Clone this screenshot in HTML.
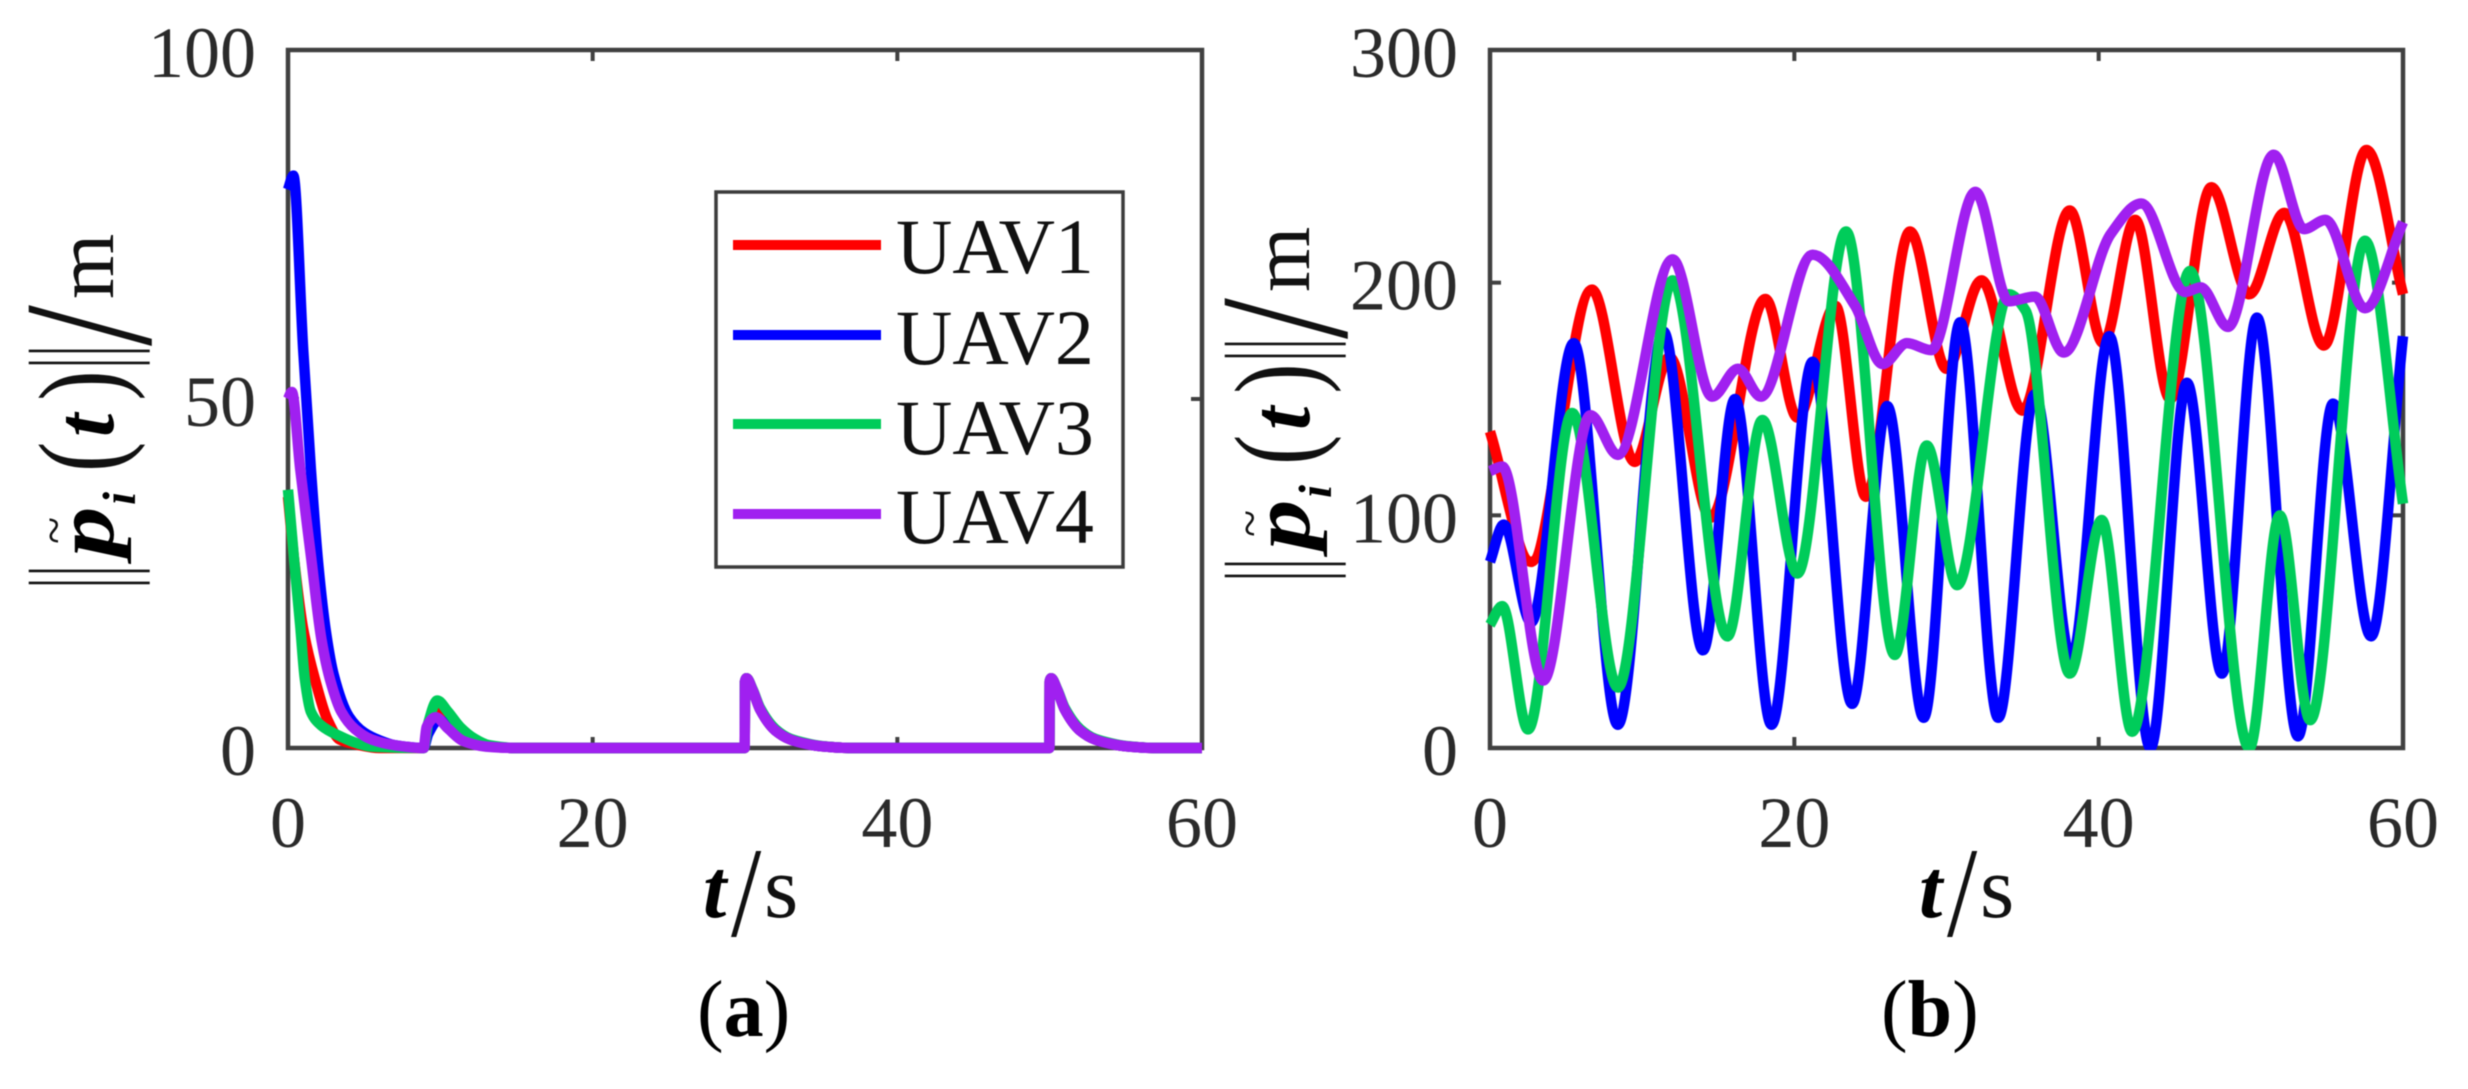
<!DOCTYPE html>
<html lang="en">
<head>
<meta charset="utf-8">
<title>UAV position error norms</title>
<style>
html,body{margin:0;padding:0;background:#fff;}
svg{display:block;filter:blur(0.5px);}
text{font-family:"Liberation Serif","DejaVu Serif",serif;}
.tick{font-size:72px;fill:#2a2a2a;}
.leg{font-size:78px;fill:#111;}
.ttl{font-size:84px;fill:#111;}
.bi{font-weight:bold;font-style:italic;fill:#000;}
</style>
</head>
<body>
<svg id="fig" xmlns="http://www.w3.org/2000/svg" width="2468" height="1089" viewBox="0 0 2468 1089">
  <rect x="0" y="0" width="2468" height="1089" fill="#fff"/>
  <defs><clipPath id="clipB"><rect x="1470" y="40" width="945" height="710"/></clipPath></defs>

  <g id="panelA"></g>
  <g id="panelB"></g>

  <g>
    <rect x="716" y="192" width="407" height="375" fill="#fff" stroke="#3c3c3c" stroke-width="3.5"/>
    <line x1="733" x2="881" y1="245" y2="245" stroke="#ff0000" stroke-width="10"/>
    <line x1="733" x2="881" y1="335" y2="335" stroke="#0000ff" stroke-width="10"/>
    <line x1="733" x2="881" y1="424" y2="424" stroke="#00cc5a" stroke-width="10"/>
    <line x1="733" x2="881" y1="514" y2="514" stroke="#a020f0" stroke-width="10"/>
    <text class="leg" x="896" y="273">UAV1</text>
    <text class="leg" x="896" y="364">UAV2</text>
    <text class="leg" x="896" y="454">UAV3</text>
    <text class="leg" x="896" y="543">UAV4</text>
  </g>

  <g transform="translate(113,587) rotate(-90)" id="ylabA"></g>
  <g transform="translate(1309,580) rotate(-90)" id="ylabB"></g>

  <g>
    <text class="ttl bi" x="703" y="917">t</text>
    <text class="ttl" transform="translate(731,936) scale(0.85,1)" style="font-size:128px">/</text>
    <text class="ttl" x="764" y="917" style="font-size:88px">s</text>
  </g>
  <g transform="translate(1216,0)">
    <text class="ttl bi" x="703" y="917">t</text>
    <text class="ttl" transform="translate(731,936) scale(0.85,1)" style="font-size:128px">/</text>
    <text class="ttl" x="764" y="917" style="font-size:88px">s</text>
  </g>

  <text x="697" y="1036" style="font-size:80px" fill="#000">(<tspan font-weight="bold">a</tspan>)</text>
  <text x="1881" y="1036" style="font-size:80px" fill="#000">(<tspan font-weight="bold">b</tspan>)</text>
</svg>

<script>
// ---------- tick labels ----------
var xTicks = [0, 20, 40, 60];
var yTicksA = [0, 50, 100];
var yTicksB = [0, 100, 200, 300];

// ---------- panel (a): settled error norms ----------
var tA1 = [0,0.4,1,1.8,2.6,3.4,4.5,6,8.9,9.2,9.9,10.8,11.8,13,15,29.98,30,30.1,30.5,31,32,33,34,35,37,49.98,50,50.1,50.5,51,52,53,54,55,57,60];
var vA1 = [36,27,17,9.6,4,1.2,0.5,0,0,2.5,5.2,3,1.2,0.3,0,0,9.5,10,8.3,5.5,2.5,1.2,0.6,0.25,0,0,9.5,10,8.3,5.5,2.5,1.2,0.6,0.25,0,0];
var tA2 = [0,0.35,1,1.5,2,2.5,3,4,5,6,7,8.9,9.2,9.9,10.8,11.8,13,15,29.98,30,30.1,30.5,31,32,33,34,35,37,49.98,50,50.1,50.5,51,52,53,54,55,57,60];
var vA2 = [80,82,57,40,26,16.5,10.5,4.5,2.2,1.1,0.4,0,2,4,2.6,1,0.3,0,0,9.5,10,8.3,5.5,2.5,1.2,0.6,0.25,0,0,9.5,10,8.3,5.5,2.5,1.2,0.6,0.25,0,0];
var tA3 = [0,0.4,0.8,1.1,1.5,2.2,3.4,4.5,5.5,8.9,9.2,9.8,10.5,11.3,12.2,13.2,15,29.98,30,30.1,30.5,31,32,33,34,35,37,49.98,50,50.1,50.5,51,52,53,54,55,57,60];
var vA3 = [37,27,17.6,10,5.2,3.2,1.7,0.7,0.2,0,3.5,6.8,5.2,3,1.4,0.4,0,0,9.5,10,8.4,5.7,2.7,1.3,0.7,0.3,0,0,9.5,10,8.4,5.7,2.7,1.3,0.7,0.3,0,0];
var tA4 = [0,0.25,0.8,1.5,2.2,2.8,3.5,4.4,5.5,7,8.9,9.1,9.7,10.5,11.5,13,15,29.98,30,30.1,30.5,31,32,33,34,35,37,49.98,50,50.1,50.5,51,52,53,54,55,57,60];
var vA4 = [50,51,40,27.6,15.5,9.5,5.2,2.7,1.2,0.4,0,3,4.4,2.8,1,0.2,0,0,9.5,10,8.3,5.5,2.5,1.2,0.6,0.25,0,0,9.5,10,8.3,5.5,2.5,1.2,0.6,0.25,0,0];

// ---------- panel (b): oscillating error norms ----------
var tB1 = [0,2.7,6.7,9.5,11.8,14.5,18.1,20.2,22.7,24.7,27.6,30,32.3,35,38.1,40.3,42.4,44.7,47.4,49.9,52.2,54.8,57.6,60];
var vB1 = [136,80,197,123,168,99,193,142,190,108,222,163,201,145,231,174,227,150,241,195,230,173,257,195];
var tB2 = [0,0.9,2.7,5.5,8.4,11.4,14,16.1,18.5,21.2,23.8,26.1,28.5,30.9,33.4,35.8,38.2,40.7,43.4,45.8,48.1,50.4,53.1,55.4,57.9,60];
var vB2 = [80,96,54,174,10,179,42,150,10,166,19,147,13,183,13,152,38,177,0,157,32,185,5,148,48,177];
var tB3 = [0,0.8,2.5,5.4,8.4,12,15.6,17.9,20.2,23.4,26.6,28.7,30.7,34.1,35.2,38.1,40.2,42.2,46,49.9,51.9,53.9,57.5,60];
var vB3 = [53,61,8,144,26,201,48,141,75,222,40,130,70,195,188,32,98,7,205,0,100,12,218,105];
var tB4 = [0,0.8,3.5,6.6,8.4,12,14.6,16.3,17.8,21.2,24,25.8,27.4,29,31.9,34.1,35.8,37.7,40.8,42.8,45.7,46.7,48.5,51.5,53.5,54.9,57.5,60];
var vB4 = [119,121,29,143,126,210,151,163,151,212,190,165,174,171,239,192,194,170,221,234,196,198,181,255,223,227,189,226];

// ---------- axis functions ----------
var SVGNS = 'http://www.w3.org/2000/svg';
var LEFT_A = 288, RIGHT_A = 1202, LEFT_B = 1490, RIGHT_B = 2403, TOP = 50, BOTTOM = 748;
function xA(t){ return LEFT_A + t * (RIGHT_A - LEFT_A) / 60; }
function yA(v){ return BOTTOM - v * (BOTTOM - TOP) / 100; }
function xB(t){ return LEFT_B + t * (RIGHT_B - LEFT_B) / 60; }
function yB(v){ return BOTTOM - v * (BOTTOM - TOP) / 300; }

// Monotone (Fritsch-Carlson style) cubic through the read values
function curve(ts, vs, fx, fy){
  var n = ts.length, m = [], d = [], i;
  for (i = 0; i < n - 1; i++) d[i] = (vs[i+1] - vs[i]) / (ts[i+1] - ts[i]);
  m[0] = d[0]; m[n-1] = d[n-2];
  for (i = 1; i < n - 1; i++) {
    if (d[i-1] * d[i] <= 0) { m[i] = 0; }
    else {
      var h0 = ts[i] - ts[i-1], h1 = ts[i+1] - ts[i];
      m[i] = (h0 + h1) * 3 / ((2*h1 + h0) / d[i-1] + (h1 + 2*h0) / d[i]);
    }
  }
  var p = 'M' + fx(ts[0]).toFixed(2) + ' ' + fy(vs[0]).toFixed(2);
  for (i = 0; i < n - 1; i++) {
    var h = ts[i+1] - ts[i];
    var t1 = ts[i] + h/3, v1 = vs[i] + m[i]*h/3;
    var t2 = ts[i+1] - h/3, v2 = vs[i+1] - m[i+1]*h/3;
    p += 'C' + fx(t1).toFixed(2) + ' ' + fy(v1).toFixed(2) + ' ' + fx(t2).toFixed(2) + ' ' + fy(v2).toFixed(2) + ' ' + fx(ts[i+1]).toFixed(2) + ' ' + fy(vs[i+1]).toFixed(2);
  }
  return p;
}

function drawAxes(g, fx, fy, yTicks, left, right, suffix, lblX){
  var box = document.createElementNS(SVGNS, 'rect');
  box.setAttribute('x', left);
  box.setAttribute('y', TOP);
  box.setAttribute('width', right - left);
  box.setAttribute('height', BOTTOM - TOP);
  box.setAttribute('fill', 'none');
  box.setAttribute('stroke', '#404040');
  box.setAttribute('stroke-width', '4.5');
  
  
  g.appendChild(box);

  xTicks.forEach(function(t){
    [[BOTTOM, BOTTOM - 11], [TOP, TOP + 11]].forEach(function(pair){
      var tk = document.createElementNS(SVGNS, 'line');
      tk.setAttribute('x1', fx(t));
      tk.setAttribute('x2', fx(t));
      tk.setAttribute('y1', pair[0]);
      tk.setAttribute('y2', pair[1]);
      tk.setAttribute('stroke', '#404040');
      tk.setAttribute('stroke-width', '4');
      
      
      g.appendChild(tk);
    });
    var lb = document.createElementNS(SVGNS, 'text');
    lb.setAttribute('x', fx(t));
    lb.setAttribute('y', 847);
    lb.setAttribute('text-anchor', 'middle');
    lb.setAttribute('class', 'tick');
    
    
    lb.textContent = String(t);
    g.appendChild(lb);
  });

  yTicks.forEach(function(v){
    [[left, left + 11], [right, right - 11]].forEach(function(pair){
      var tk = document.createElementNS(SVGNS, 'line');
      tk.setAttribute('x1', pair[0]);
      tk.setAttribute('x2', pair[1]);
      tk.setAttribute('y1', fy(v));
      tk.setAttribute('y2', fy(v));
      tk.setAttribute('stroke', '#404040');
      tk.setAttribute('stroke-width', '4');
      
      
      g.appendChild(tk);
    });
    var lb = document.createElementNS(SVGNS, 'text');
    lb.setAttribute('x', lblX);
    lb.setAttribute('y', fy(v) + 27);
    lb.setAttribute('text-anchor', 'end');
    lb.setAttribute('class', 'tick');
    
    
    lb.textContent = String(v);
    g.appendChild(lb);
  });
}

function drawSeries(g, ts, vs, fx, fy, color, name, clip){
  var path = document.createElementNS(SVGNS, 'path');
  path.setAttribute('d', curve(ts, vs, fx, fy));
  path.setAttribute('fill', 'none');
  path.setAttribute('stroke', color);
  path.setAttribute('stroke-width', '10.5');
  path.setAttribute('stroke-linejoin', 'round');
  
  
  if (clip) path.setAttribute('clip-path', clip);
  g.appendChild(path);
}

var panelA = document.getElementById('panelA');
var panelB = document.getElementById('panelB');

drawAxes(panelA, xA, yA, yTicksA, LEFT_A, RIGHT_A, 'a', 256);
drawAxes(panelB, xB, yB, yTicksB, LEFT_B, RIGHT_B, 'b', 1458);

drawSeries(panelA, tA1, vA1, xA, yA, '#ff0000', 'series-uav1-a', null);
drawSeries(panelA, tA2, vA2, xA, yA, '#0000ff', 'series-uav2-a', null);
drawSeries(panelA, tA3, vA3, xA, yA, '#00cc5a', 'series-uav3-a', null);
drawSeries(panelA, tA4, vA4, xA, yA, '#a020f0', 'series-uav4-a', null);

drawSeries(panelB, tB1, vB1, xB, yB, '#ff0000', 'series-uav1-b', 'url(#clipB)');
drawSeries(panelB, tB2, vB2, xB, yB, '#0000ff', 'series-uav2-b', 'url(#clipB)');
drawSeries(panelB, tB3, vB3, xB, yB, '#00cc5a', 'series-uav3-b', 'url(#clipB)');
drawSeries(panelB, tB4, vB4, xB, yB, '#a020f0', 'series-uav4-b', 'url(#clipB)');

// ---------- y-axis title glyphs (rotated frame) ----------
function glyph(g, ch, x, y, size, sx, sy, cls){
  var t = document.createElementNS(SVGNS, 'text');
  t.setAttribute('transform', 'translate(' + x + ',' + y + ') scale(' + sx + ',' + sy + ')');
  t.setAttribute('style', 'font-size:' + size + 'px');
  t.setAttribute('class', cls);
  
  
  t.textContent = ch;
  g.appendChild(t);
}
function yTitle(g){
  glyph(g, '|', -1.3, 8, 133, 0.4, 1, 'ttl');
  glyph(g, '|', 10.7, 8, 133, 0.4, 1, 'ttl');
  glyph(g, 'p', 30, 0, 84, 1.2, 1, 'ttl bi');
  glyph(g, '~', 43, -43, 50, 1, 1, 'ttl');
  glyph(g, 'i', 82, 22, 47, 1, 1, 'ttl bi');
  glyph(g, '(', 115, 7, 118, 0.77, 1, 'ttl');
  glyph(g, 't', 150, 0, 84, 1, 1, 'ttl bi');
  glyph(g, ')', 186.4, 7, 118, 0.77, 1, 'ttl');
  glyph(g, '|', 218.7, 8, 133, 0.4, 1, 'ttl');
  glyph(g, '|', 230.7, 8, 133, 0.4, 1, 'ttl');
  glyph(g, '/', 241, 37, 184, 0.8, 1, 'ttl');
  glyph(g, 'm', 288, 0, 84, 1, 1, 'ttl');
}
yTitle(document.getElementById('ylabA'));
yTitle(document.getElementById('ylabB'));
</script>
</body>
</html>
